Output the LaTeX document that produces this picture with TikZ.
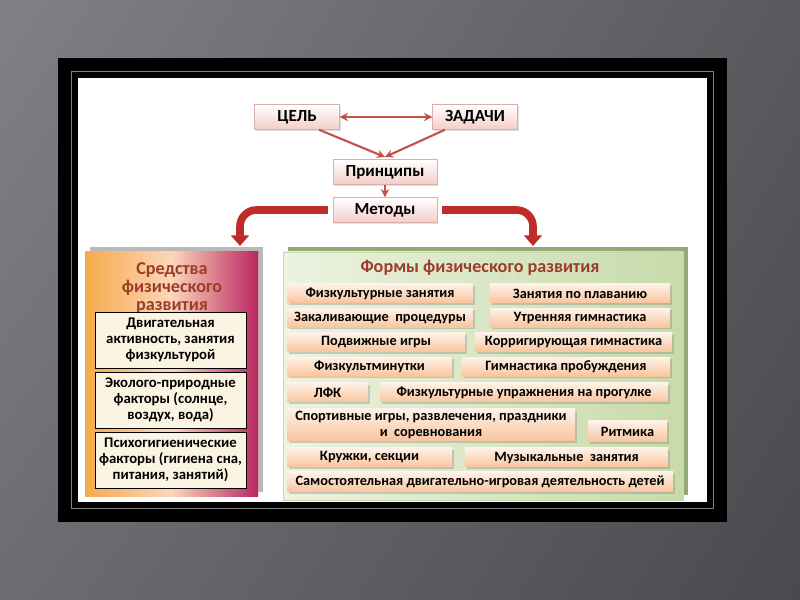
\documentclass[tikz,border=0pt]{standalone}
\usepackage{fontspec}
\setmainfont{Carlito}
\usetikzlibrary{shapes, arrows.meta, positioning, calc, shadows, shadings}
\usepackage{xcolor}

\definecolor{arrowred}{RGB}{190,45,42}
\definecolor{thinred}{RGB}{196,80,76}
\definecolor{titlered}{RGB}{156,60,42}
\definecolor{boxpink}{RGB}{243,205,200}
\definecolor{boxedge}{RGB}{220,175,170}
\definecolor{peach}{RGB}{248,196,156}
\definecolor{peachtop}{RGB}{254,242,232}
\definecolor{cream}{RGB}{252,244,226}
\definecolor{greenlight}{RGB}{236,243,224}
\definecolor{greendark}{RGB}{200,218,170}
\definecolor{greenshadow}{RGB}{150,168,120}
\definecolor{porange}{RGB}{246,170,76}
\definecolor{pmagenta}{RGB}{186,38,96}
\definecolor{plight}{RGB}{252,214,186}
\definecolor{bgul}{RGB}{130,128,134}
\definecolor{bgll}{RGB}{110,108,114}
\definecolor{bgur}{RGB}{90,89,94}
\definecolor{bglr}{RGB}{74,73,78}

\begin{document}
\begin{tikzpicture}[x=0.03cm, y=-0.03cm, >={Stealth[length=7pt,width=7pt]},
  wd/.style={minimum width=#1*0.03cm},
  ht/.style={minimum height=#1*0.03cm},
  topbox/.style={draw=boxedge, top color=white, bottom color=boxpink, inner sep=0pt,
    font=\fontsize{14.5}{16}\selectfont\bfseries, minimum height=0.75cm,
    drop shadow={shadow xshift=1pt, shadow yshift=-1pt, opacity=0.25}},
  item/.style={top color=peachtop, bottom color=peach, inner sep=0pt, align=center,
    font=\fontsize{12.2}{13}\selectfont\bfseries, ht=19,
    drop shadow={shadow xshift=1.5pt, shadow yshift=-1.5pt, opacity=0.35}},
  sredbox/.style={draw=black, thin, fill=cream, inner sep=0pt, align=center,
    font=\fontsize{12.6}{13.4}\selectfont\bfseries, wd=151, ht=56},
  thin arrow/.style={->, thinred, line width=1.8pt},
  big arrow/.style={-{Triangle[width=15pt,length=9pt]}, arrowred, line width=6.5pt, rounded corners=14}]

  % slide background and frame
  \useasboundingbox (0,0) rectangle (800,600);
  \shade[upper left=bgul, lower left=bgll, upper right=bgur, lower right=bglr] (0,0) rectangle (800,600);
  \fill[black] (58,58) rectangle (727,522);
  \draw[gray, line width=1.5pt] (71.5,71.5) rectangle (713.5,508.5);
  \fill[white] (78,78) rectangle (707,502);

  % top chain
  \node (cel) [topbox, wd=85] at (297,117) {ЦЕЛЬ};
  \node (zadachi) [topbox, wd=85] at (475,117) {ЗАДАЧИ};
  \node (princ) [topbox, wd=104] at (385,172) {Принципы};
  \node (metody) [topbox, wd=104] at (385,210) {Методы};
  \coordinate (meet) at (385,157);

  \draw[thin arrow, <->] (cel) -- (zadachi);
  \draw[thin arrow] ($(cel.south)+(22,0)$) -- (meet);
  \draw[thin arrow] ($(zadachi.south)+(-30,0)$) -- (meet);
  \draw[thin arrow] (princ) -- (metody);

  % thick arrows down to both panels
  \coordinate (lefttip) at (240,246);
  \coordinate (righttip) at (533,246);
  \draw[big arrow] ($(metody.west)+(-5,0)$) -| (lefttip);
  \draw[big arrow] ($(metody.east)+(5,0)$) -| (righttip);

  % left panel
  \fill[gray!55] (90,247) rectangle (263,492);
  \shade[left color=porange, right color=pmagenta, middle color=plight] (85,252) rectangle (258,497);
  \node (sredtitle) [text=titlered, align=center, font=\fontsize{15.5}{15}\selectfont\bfseries] at (172,288)
    {Средства\\физического\\развития};
  \node (sred1) [sredbox] at (170.5,340) {Двигательная\\активность, занятия\\физкультурой};
  \node (sred2) [sredbox] at (170.5,400) {Эколого-природные\\факторы (солнце,\\воздух, вода)};
  \node (sred3) [sredbox] at (170.5,460) {Психогигиенические\\факторы (гигиена сна,\\питания, занятий)};

  % right panel
  \fill[greenshadow] (288,247) rectangle (688,495);
  \shade[left color=greenlight, right color=greendark, draw=greendark] (283,252) rectangle (683,500);
  \node (formtitle) [text=titlered, font=\fontsize{15.5}{17}\selectfont\bfseries] at (480,268)
    {Формы физического развития};

  \node (f1) [item, wd=186] at (380,293.5) {Физкультурные занятия};
  \node (f2) [item, wd=180] at (580,293.5) {Занятия по плаванию};
  \node (f3) [item, wd=186] at (380,318) {Закаливающие\ \ процедуры};
  \node (f4) [item, wd=180] at (580,318) {Утренняя гимнастика};
  \node (f5) [item, wd=178] at (376,342.5) {Подвижные игры};
  \node (f6) [item, wd=197] at (573.5,342.5) {Корригирующая гимнастика};
  \node (f7) [item, wd=165] at (369.5,367) {Физкультминутки};
  \node (f8) [item, wd=208] at (566,367) {Гимнастика пробуждения};
  \node (f9) [item, wd=81] at (327.5,392.5) {ЛФК};
  \node (f10) [item, wd=288] at (524,392.5) {Физкультурные упражнения на прогулке};
  \node (f11) [item, wd=288, ht=32] at (431,425) {Спортивные игры, развлечения, праздники\\и\ \ соревнования};
  \node (f12) [item, wd=79, ht=21] at (627.5,431.5) {Ритмика};
  \node (f13) [item, wd=165] at (369.5,457.5) {Кружки, секции};
  \node (f14) [item, wd=203] at (566.5,457.5) {Музыкальные\ \ занятия};
  \node (f15) [item, wd=386, ht=20] at (480,482) {Самостоятельная двигательно-игровая деятельность детей};

\end{tikzpicture}
\end{document}
